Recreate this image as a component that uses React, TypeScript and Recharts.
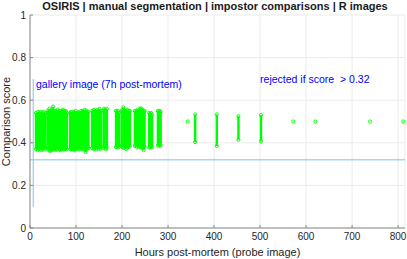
import React from 'react';
import {
  ScatterChart,
  Scatter,
  XAxis,
  YAxis,
  CartesianGrid,
  ReferenceLine,
  ReferenceDot,
  ErrorBar,
} from 'recharts';

const hourTicks = [0, 100, 200, 300, 400, 500, 600, 700, 800];
const scoreTicks = [0, 0.2, 0.4, 0.6, 0.8, 1];
const threshold = 0.32;
const galleryHour = 7;

// each probe column: hours post-mortem, lowest and highest impostor score
const columnHours = [
  13, 15, 17, 19, 21, 23, 25, 27, 29, 31, 33,
  38, 40, 42, 44, 46, 48, 50, 52, 54, 56, 58, 60, 62, 64, 66, 68, 70, 72, 74, 76, 78, 80,
  87, 89, 91, 93, 95, 97, 99, 101, 103, 105, 107,
  111, 113, 115, 117, 119, 121, 123, 125, 127,
  135, 137, 139, 141, 143, 145,
  147, 149, 151, 153, 155,
  161, 163, 165, 167,
  187, 189, 191, 193,
  199, 201, 203, 205, 207, 209, 211, 213, 215, 217,
  228, 230, 232, 234, 236,
  239, 241, 243, 245, 247, 249,
  259, 261, 263, 265,
  278, 280, 282, 284,
  359, 406, 453, 502,
];
const columnLow = [
  0.37, 0.375, 0.365, 0.37, 0.38, 0.37, 0.365, 0.375, 0.37, 0.38, 0.375,
  0.37, 0.375, 0.365, 0.36, 0.37, 0.365, 0.37, 0.375, 0.37, 0.365, 0.38, 0.37, 0.375, 0.37, 0.365, 0.37, 0.375, 0.37, 0.38, 0.37, 0.375, 0.37,
  0.37, 0.375, 0.37, 0.38, 0.37, 0.365, 0.375, 0.37, 0.38, 0.375, 0.37,
  0.375, 0.37, 0.38, 0.37, 0.375, 0.357, 0.37, 0.38, 0.375,
  0.375, 0.38, 0.37, 0.375, 0.38, 0.37,
  0.38, 0.375, 0.385, 0.37, 0.38,
  0.375, 0.38, 0.37, 0.378,
  0.38, 0.378, 0.385, 0.38,
  0.385, 0.38, 0.375, 0.383, 0.38, 0.37, 0.383, 0.38, 0.385, 0.383,
  0.385, 0.39, 0.38, 0.388, 0.385,
  0.38, 0.377, 0.385, 0.38, 0.365, 0.38,
  0.377, 0.38, 0.385, 0.38,
  0.388, 0.39, 0.385, 0.388,
  0.403, 0.385, 0.414, 0.407,
];
const columnHigh = [
  0.54, 0.53, 0.545, 0.535, 0.54, 0.545, 0.53, 0.54, 0.545, 0.535, 0.54,
  0.55, 0.545, 0.56, 0.54, 0.55, 0.555, 0.57, 0.55, 0.545, 0.55, 0.54, 0.555, 0.545, 0.55, 0.54, 0.55, 0.545, 0.555, 0.55, 0.545, 0.55, 0.54,
  0.54, 0.545, 0.535, 0.54, 0.545, 0.54, 0.55, 0.535, 0.54, 0.545, 0.54,
  0.55, 0.545, 0.55, 0.54, 0.555, 0.545, 0.55, 0.54, 0.545,
  0.55, 0.545, 0.555, 0.55, 0.54, 0.545,
  0.555, 0.55, 0.56, 0.545, 0.55,
  0.56, 0.555, 0.55, 0.56,
  0.55, 0.545, 0.55, 0.54,
  0.55, 0.555, 0.567, 0.55, 0.545, 0.55, 0.555, 0.545, 0.55, 0.55,
  0.55, 0.545, 0.55, 0.555, 0.545,
  0.56, 0.562, 0.55, 0.555, 0.545, 0.55,
  0.54, 0.535, 0.54, 0.53,
  0.55, 0.545, 0.55, 0.545,
  0.533, 0.533, 0.525, 0.53,
];

// probes with a single comparison
const singleHours = [343, 572, 620, 739, 811];
const singleScores = [0.5, 0.5, 0.5, 0.5, 0.5];

const lowPoints = columnHours.map((h, i) => ({
  h,
  s: columnLow[i],
  span: [0, columnHigh[i] - columnLow[i]],
}));
const highPoints = columnHours.map((h, i) => ({ h, s: columnHigh[i] }));
const singlePoints = singleHours.map((h, i) => ({ h, s: singleScores[i] }));

const GREEN = '#00ff00';
const FONT = '"Liberation Sans", Arial, Helvetica, sans-serif';

const Ring = (props: any) => (
  <circle cx={props.cx} cy={props.cy} r={1.6} fill="none" stroke={GREEN} strokeWidth={0.9} />
);

const App: React.FC = () => {
  return (
    <div style={{ position: 'absolute', left: 0, top: 0, width: 407, height: 259, fontFamily: FONT }}>
      <div
        style={{
          position: 'absolute',
          left: 0,
          top: -1,
          width: 430,
          textAlign: 'center',
          fontSize: 11,
          fontWeight: 'bold',
          color: '#1a1a1a',
          lineHeight: '14px',
        }}
      >
        OSIRIS | manual segmentation | impostor comparisons | R images
      </div>
      <ScatterChart
        width={407}
        height={259}
        margin={{ top: 15, right: 2, left: 0, bottom: 0 }}
        style={{ fontFamily: FONT }}
      >
        <CartesianGrid stroke="#ebebeb" />
        <XAxis
          type="number"
          dataKey="h"
          domain={[0, 815]}
          ticks={hourTicks}
          height={31}
          allowDataOverflow
          stroke="#888"
          tickSize={-3}
          tickMargin={8}
          tick={{ fill: '#262626', fontSize: 10 }}
          label={{
            value: 'Hours post-mortem (probe image)',
            position: 'insideBottom',
            offset: 3,
            fill: '#262626',
            fontSize: 11,
          }}
        />
        <YAxis
          type="number"
          dataKey="s"
          domain={[0, 1]}
          ticks={scoreTicks}
          width={30}
          allowDataOverflow
          stroke="#888"
          tickSize={-3}
          tickMargin={7}
          tick={{ fill: '#262626', fontSize: 10 }}
          label={{
            value: 'Comparison score',
            angle: -90,
            position: 'insideLeft',
            offset: 6,
            textAnchor: 'middle',
            fill: '#262626',
            fontSize: 11,
          }}
        />
        <ReferenceLine y={threshold} stroke="#7ec2ea" strokeWidth={1} />
        <ReferenceLine
          segment={[
            { x: galleryHour, y: 0.1 },
            { x: galleryHour, y: 0.7 },
          ]}
          stroke="#7ec2ea"
          strokeWidth={1}
        />
        <Scatter data={lowPoints} shape={Ring} isAnimationActive={false}>
          <ErrorBar dataKey="span" direction="y" width={0} stroke={GREEN} strokeWidth={2.4} />
        </Scatter>
        <Scatter data={highPoints} shape={Ring} isAnimationActive={false} />
        <Scatter data={singlePoints} shape={Ring} isAnimationActive={false} />
        <ReferenceDot
          x={13}
          y={0.673}
          r={0}
          stroke="none"
          fill="none"
          label={{ value: 'gallery image (7h post-mortem)', position: 'right', offset: 0, fill: '#0000ff', fontSize: 10.5 }}
        />
        <ReferenceDot
          x={500}
          y={0.696}
          r={0}
          stroke="none"
          fill="none"
          label={{ value: 'rejected if score \u00a0> 0.32', position: 'right', offset: 0, fill: '#0000ff', fontSize: 10.5 }}
        />
      </ScatterChart>
    </div>
  );
};

export default App;
